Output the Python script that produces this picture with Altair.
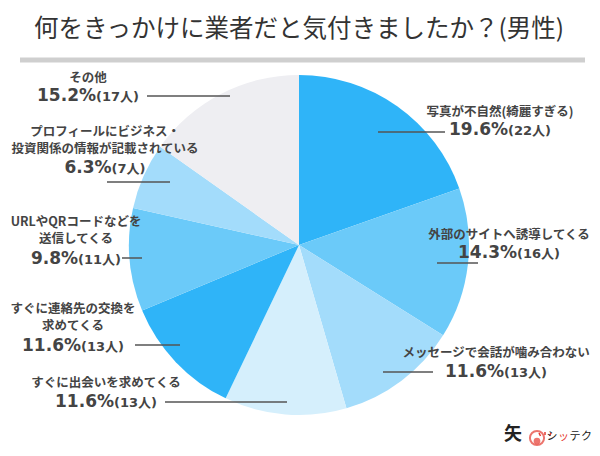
import altair as alt
import pandas as pd

# ---- data ----
categories = [
    "写真が不自然(綺麗すぎる)",
    "外部のサイトへ誘導してくる",
    "メッセージで会話が噛み合わない",
    "すぐに出会いを求めてくる",
    "すぐに連絡先の交換を求めてくる",
    "URLやQRコードなどを送信してくる",
    "プロフィールにビジネス・投資関係の情報が記載されている",
    "その他",
]
percents = [19.6, 14.3, 11.6, 11.6, 11.6, 9.8, 6.3, 15.2]
counts = [22, 16, 13, 13, 13, 11, 7, 17]
label_lines = [
    ["写真が不自然(綺麗すぎる)"],
    ["外部のサイトへ誘導してくる"],
    ["メッセージで会話が噛み合わない"],
    ["すぐに出会いを求めてくる"],
    ["すぐに連絡先の交換を", "求めてくる"],
    ["URLやQRコードなどを", "送信してくる"],
    ["プロフィールにビジネス・", "投資関係の情報が記載されている"],
    ["その他"],
]
title_text = "何をきっかけに業者だと気付きましたか？(男性)"
logo_chars_list = ["シ", "ッ", "テ", "ク"]

# ---- styles / layout (reference pixel coordinates) ----
colors = ["#2fb4f8", "#6bcaf9", "#a3dcfb", "#d5effc",
          "#2fb4f8", "#6bcaf9", "#a3dcfb", "#eeeef2"]
# (center x of label block, first name line y, percent line y, leader x1, x2, y)
layout = [
    (500, 112, 130, 378, 445, 132),
    (509, 235, 253, 437, 478, 263),
    (496, 353, 372, 383, 433, 372),
    (106, 383, 402, 165, 287, 402),
    (73, 308.5, 345.5, 135, 180, 345),
    (76, 221.5, 258.5, 122, 142, 258),
    (105, 131.5, 167.5, 107, 170, 182),
    (88, 78, 96, 147, 230, 96),
]
LINE_GAP = 17
OFF = 8
PIE_CX, PIE_CY, PIE_R = 299, 245, 170
TEXT_COLOR = "#444444"
PCT_SIZE, CNT_SIZE, NAME_SIZE = 17, 13, 12.5
JP_FONT = "Noto Sans CJK JP"
NUM_FONT = "DejaVu Sans, Noto Sans CJK JP"

adv = {c: 0.696 for c in "0123456789"}
adv.update({".": 0.38, "%": 1.002, "(": 0.457, ")": 0.457, "人": 1.0})


def width(s, size):
    return sum(adv.get(ch, 1.0) for ch in s) * size


pie_df = pd.DataFrame({"cat": categories, "value": percents,
                       "idx": list(range(len(categories)))})

name_rows, pct_rows, cnt_rows, lead_rows = [], [], [], []
for i, cat in enumerate(categories):
    cx, ny, py, lx1, lx2, ly = layout[i]
    name_rows.append({"x": cx - OFF, "y": ny - OFF, "t": "\n".join(label_lines[i])})
    ptxt = f"{percents[i]}%"
    ctxt = f"({counts[i]}人)"
    wp, wc = width(ptxt, PCT_SIZE), width(ctxt, CNT_SIZE)
    left = cx - (wp + wc) / 2
    pct_rows.append({"x": left - OFF, "y": py - OFF, "t": ptxt})
    cnt_rows.append({"x": left + wp - OFF, "y": py + 1 - OFF, "t": ctxt})
    lead_rows.append({"x": lx1 - OFF, "x2": lx2 - OFF, "y": ly - OFF})

names_df = pd.DataFrame(name_rows)
pct_df = pd.DataFrame(pct_rows)
cnt_df = pd.DataFrame(cnt_rows)
lead_df = pd.DataFrame(lead_rows)

X = lambda f: alt.X(f, scale=None, axis=None)
Y = lambda f: alt.Y(f, scale=None, axis=None)

pie = alt.Chart(pie_df).mark_arc(outerRadius=PIE_R).encode(
    theta=alt.Theta("value:Q", stack=True),
    color=alt.Color("cat:N", scale=alt.Scale(domain=categories, range=colors), legend=None),
    order=alt.Order("idx:Q"),
    x=alt.value(PIE_CX - OFF),
    y=alt.value(PIE_CY - OFF),
)

leaders = alt.Chart(lead_df).mark_rule(color="#555555", strokeWidth=1.5).encode(
    x=X("x:Q"), x2="x2:Q", y=Y("y:Q")
)

names = alt.Chart(names_df).mark_text(
    font=JP_FONT, fontSize=NAME_SIZE, fontWeight="bold", color=TEXT_COLOR,
    align="center", baseline="middle", lineBreak="\n", lineHeight=LINE_GAP
).encode(x=X("x:Q"), y=Y("y:Q"), text="t:N")

pcts = alt.Chart(pct_df).mark_text(
    font=NUM_FONT, fontSize=PCT_SIZE, fontWeight="bold", color=TEXT_COLOR,
    align="left", baseline="middle"
).encode(x=X("x:Q"), y=Y("y:Q"), text="t:N")

cnts = alt.Chart(cnt_df).mark_text(
    font=NUM_FONT, fontSize=CNT_SIZE, fontWeight="bold", color=TEXT_COLOR,
    align="left", baseline="middle"
).encode(x=X("x:Q"), y=Y("y:Q"), text="t:N")

title_df = pd.DataFrame({"t": [title_text]})
title = alt.Chart(title_df).mark_text(
    font=JP_FONT, fontSize=24.5, color="#333333", align="center", baseline="middle"
).encode(x=alt.value(299 - OFF), y=alt.value(30 - OFF), text="t:N")

title_rule = alt.Chart(title_df).mark_rule(color="#cfcfcf", strokeWidth=5).encode(
    x=alt.value(20 - OFF), x2=alt.value(585 - OFF), y=alt.value(60 - OFF)
)

# logo
logo_k = alt.Chart(title_df).mark_text(
    font=JP_FONT, fontSize=18, fontWeight="bold", color="#222222", align="center",
    baseline="middle", text="矢"
).encode(x=alt.value(513 - OFF), y=alt.value(435 - OFF))
logo_face = alt.Chart(title_df).mark_point(
    shape="circle", size=200, filled=False, stroke="#e53b30", strokeWidth=2, fill="white"
).encode(x=alt.value(537 - OFF), y=alt.value(438 - OFF))
logo_mouth = alt.Chart(title_df).mark_point(
    shape="circle", size=45, filled=True, color="#e53b30"
).encode(x=alt.value(537 - OFF), y=alt.value(441 - OFF))
logo_rays = alt.Chart(pd.DataFrame({
    "x": [531, 537, 543], "x2": [532.5, 537, 541.5], "y": [425, 424, 425], "y2": [428, 427, 428]
})).mark_rule(color="#e53b30", strokeWidth=1.5).encode(
    x=alt.X("x:Q", scale=None), x2="x2:Q", y=alt.Y("y:Q", scale=None), y2="y2:Q"
)
logo_chars = pd.DataFrame({
    "t": logo_chars_list,
    "x": [552 - OFF, 563.5 - OFF, 575 - OFF, 586.5 - OFF],
    "c": ["#222222", "#e53b30", "#222222", "#222222"],
})
logo_text = alt.Chart(logo_chars).mark_text(
    font=JP_FONT, fontSize=11, align="center", baseline="middle"
).encode(x=X("x:Q"), y=alt.value(437 - OFF), text="t:N",
         color=alt.Color("c:N", scale=None))

chart = alt.layer(
    pie, leaders, names, pcts, cnts, title, title_rule,
    logo_k, logo_face, logo_mouth, logo_rays, logo_text
).properties(
    width=584, height=440, padding=0,
    autosize=alt.AutoSizeParams(type="none")
).configure_view(strokeWidth=0).resolve_scale(color="independent")

chart.save("out.html", embed_options={"renderer": "svg", "actions": False})
